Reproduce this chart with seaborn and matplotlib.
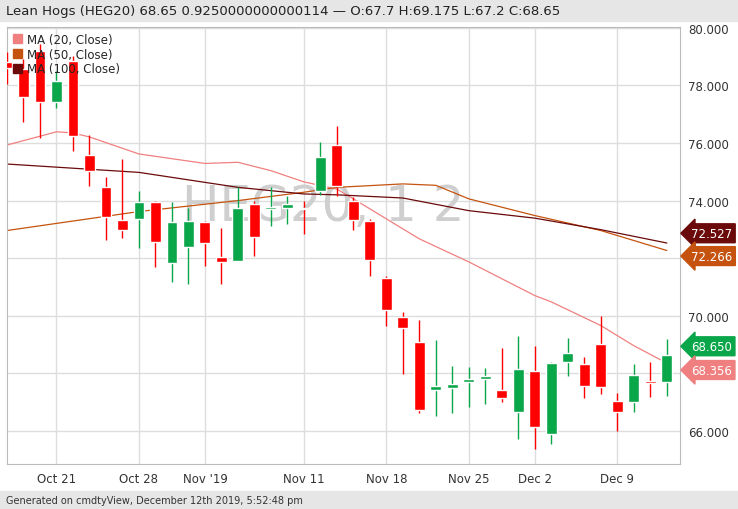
import matplotlib
matplotlib.use("Agg")
import matplotlib.pyplot as plt
import seaborn as sns
import pandas as pd
import numpy as np

dates = ["Oct 16","Oct 17","Oct 18","Oct 21","Oct 22","Oct 23","Oct 24","Oct 25",
         "Oct 28","Oct 29","Oct 30","Oct 31","Nov 1","Nov 4","Nov 5","Nov 6","Nov 7","Nov 8",
         "Nov 11","Nov 12","Nov 13","Nov 14","Nov 15","Nov 18","Nov 19","Nov 20","Nov 21","Nov 22",
         "Nov 25","Nov 26","Nov 27","Nov 29","Dec 2","Dec 3","Dec 4","Dec 5","Dec 6",
         "Dec 9","Dec 10","Dec 11","Dec 12"]
opens  = [78.80,78.57,79.18,77.43,78.84,75.58,74.46,73.33,73.36,73.96,71.83,72.40,73.25,72.05,71.89,73.88,73.70,73.73,73.74,74.34,75.94,
          73.98,73.30,71.30,69.95,69.08,67.42,67.48,67.71,67.81,67.43,66.67,68.09,65.90,68.41,68.33,69.02,67.03,67.02,67.74,67.70]
highs  = [79.15,78.92,79.44,78.51,79.03,76.28,74.81,75.44,74.34,74.00,73.96,73.73,73.30,73.04,74.46,74.00,74.46,74.17,73.99,76.05,76.58,
          74.12,73.35,71.39,70.14,69.85,69.17,68.25,68.21,68.18,68.87,69.29,68.94,68.41,69.23,68.56,70.00,67.31,68.33,68.41,69.175]
lows   = [78.05,76.72,76.16,77.20,75.73,74.52,72.64,72.69,72.34,71.68,71.17,71.10,71.72,71.10,71.89,72.07,73.13,73.19,72.84,74.19,74.17,
          72.99,71.39,69.63,67.98,66.63,66.53,66.63,66.82,66.94,67.02,65.72,65.38,65.55,67.90,67.13,67.28,65.98,66.67,67.19,67.20]
closes = [78.59,77.61,77.43,78.14,76.23,75.04,73.44,72.99,73.96,72.57,73.25,73.30,72.53,71.86,73.73,72.73,73.78,73.88,73.70,75.50,74.52,
          73.34,71.95,70.20,69.58,66.74,67.57,67.63,67.81,67.92,67.14,68.15,66.13,68.36,68.70,67.55,67.52,66.67,67.94,67.68,68.65]

ma20_idx = [0,3,4,5,8,12,14,16,18,20,21,25,28,32,33,36,38,40]
ma20_val = [75.93,76.39,76.35,76.21,75.62,75.29,75.33,75.04,74.65,74.40,74.06,72.67,71.87,70.70,70.48,69.66,68.96,68.356]
ma50_idx = [0,8,14,18,20,24,26,28,32,36,40]
ma50_val = [72.96,73.62,74.00,74.29,74.46,74.58,74.53,74.06,73.48,72.96,72.266]
ma100_idx = [0,8,14,18,20,24,28,32,36,40]
ma100_val = [75.27,74.98,74.46,74.23,74.20,74.09,73.65,73.39,72.99,72.527]

tick_pos = [3,8,12,18,23,28,32,37]
tick_labels = ["Oct 21","Oct 28","Nov '19","Nov 11","Nov 18","Nov 25","Dec 2","Dec 9"]

sns.set_style("white")
plt.rcParams['font.family'] = ['DejaVu Sans']

RED, GREEN = "#ff0000", "#0aa64a"
C20, C50, C100 = "#f08080", "#c5530f", "#6b0a0a"

fig = plt.figure(figsize=(7.38, 5.10), dpi=100)
fig.patch.set_facecolor("white")
fig.patches.append(plt.Rectangle((0, 1-22/510), 1, 22/510, transform=fig.transFigure, color="#e6e6e6", zorder=0))
fig.patches.append(plt.Rectangle((0, 0), 1, 18/510, transform=fig.transFigure, color="#e6e6e6", zorder=0))
fig.text(0.008, 1-11/510, "Lean Hogs (HEG20) 68.65 0.9250000000000114 \u2014 O:67.7 H:69.175 L:67.2 C:68.65",
         fontsize=9.5, va="center", color="#222222")
fig.text(0.008, 9/510, "Generated on cmdtyView, December 12th 2019, 5:52:48 pm", fontsize=7, va="center", color="#333333")

ax = fig.add_axes([7/738, 1-465/510, (680-7)/738, (465-28)/510])
df = pd.DataFrame({"i": np.arange(len(dates)), "o": opens, "h": highs, "l": lows, "c": closes})
df["col"] = np.where(df.c >= df.o, GREEN, RED)
ax.vlines(df.i, df.l, df.h, colors=df.col, lw=1, zorder=3)
bottoms = np.minimum(df.o, df.c)
heights = np.maximum(np.abs(df.c - df.o), 0.05)
ax.bar(df.i, heights, bottom=bottoms, width=0.66, color=df.col, zorder=4)

sns.lineplot(x=ma20_idx, y=ma20_val, ax=ax, color=C20, lw=0.9, zorder=2)
sns.lineplot(x=ma50_idx, y=ma50_val, ax=ax, color=C50, lw=0.9, zorder=2)
sns.lineplot(x=ma100_idx, y=ma100_val, ax=ax, color=C100, lw=0.9, zorder=2)

ax.text(0.47, 0.59, "HEG20, 1 2", transform=ax.transAxes, fontsize=36, color="#cfcfcf",
        ha="center", va="center", zorder=1)

ax.set_xlim(0, 40.8)
ax.set_ylim(64.85, 80.03)
ax.set_xticks(tick_pos)
ax.set_xticklabels(tick_labels)
ax.set_yticks(np.arange(66, 81, 2))
ax.yaxis.tick_right()
ax.set_yticklabels([f"{v:.3f}" for v in np.arange(66, 81, 2)])
ax.tick_params(length=0, labelsize=8.5, colors="#333333", pad=6)
ax.grid(True, color="#dddddd", lw=1)
for s in ax.spines.values():
    s.set_color("#bbbbbb")

handles = [plt.Rectangle((0, 0), 1, 1, color=c) for c in (C20, C50, C100)]
ax.legend(handles, ["MA (20, Close)", "MA (50, Close)", "MA (100, Close)"], loc="upper left",
          frameon=False, fontsize=8.5, handlelength=0.8, handleheight=0.8, borderaxespad=0.1,
          labelspacing=0.15, handletextpad=0.4)

for val, col, txt, dy in [(72.527, C100, "72.527", 7), (72.266, C50, "72.266", -4),
                          (68.65, GREEN, "68.650", 6), (68.356, C20, "68.356", -5)]:
    ax.annotate(txt, xy=(1.0, val), xycoords=("axes fraction", "data"), xytext=(8, dy),
                textcoords="offset points", va="center", ha="left", fontsize=8.5, color="white",
                bbox=dict(boxstyle="larrow,pad=0.25", fc=col, ec=col))

fig.savefig("out.png", dpi=100)
